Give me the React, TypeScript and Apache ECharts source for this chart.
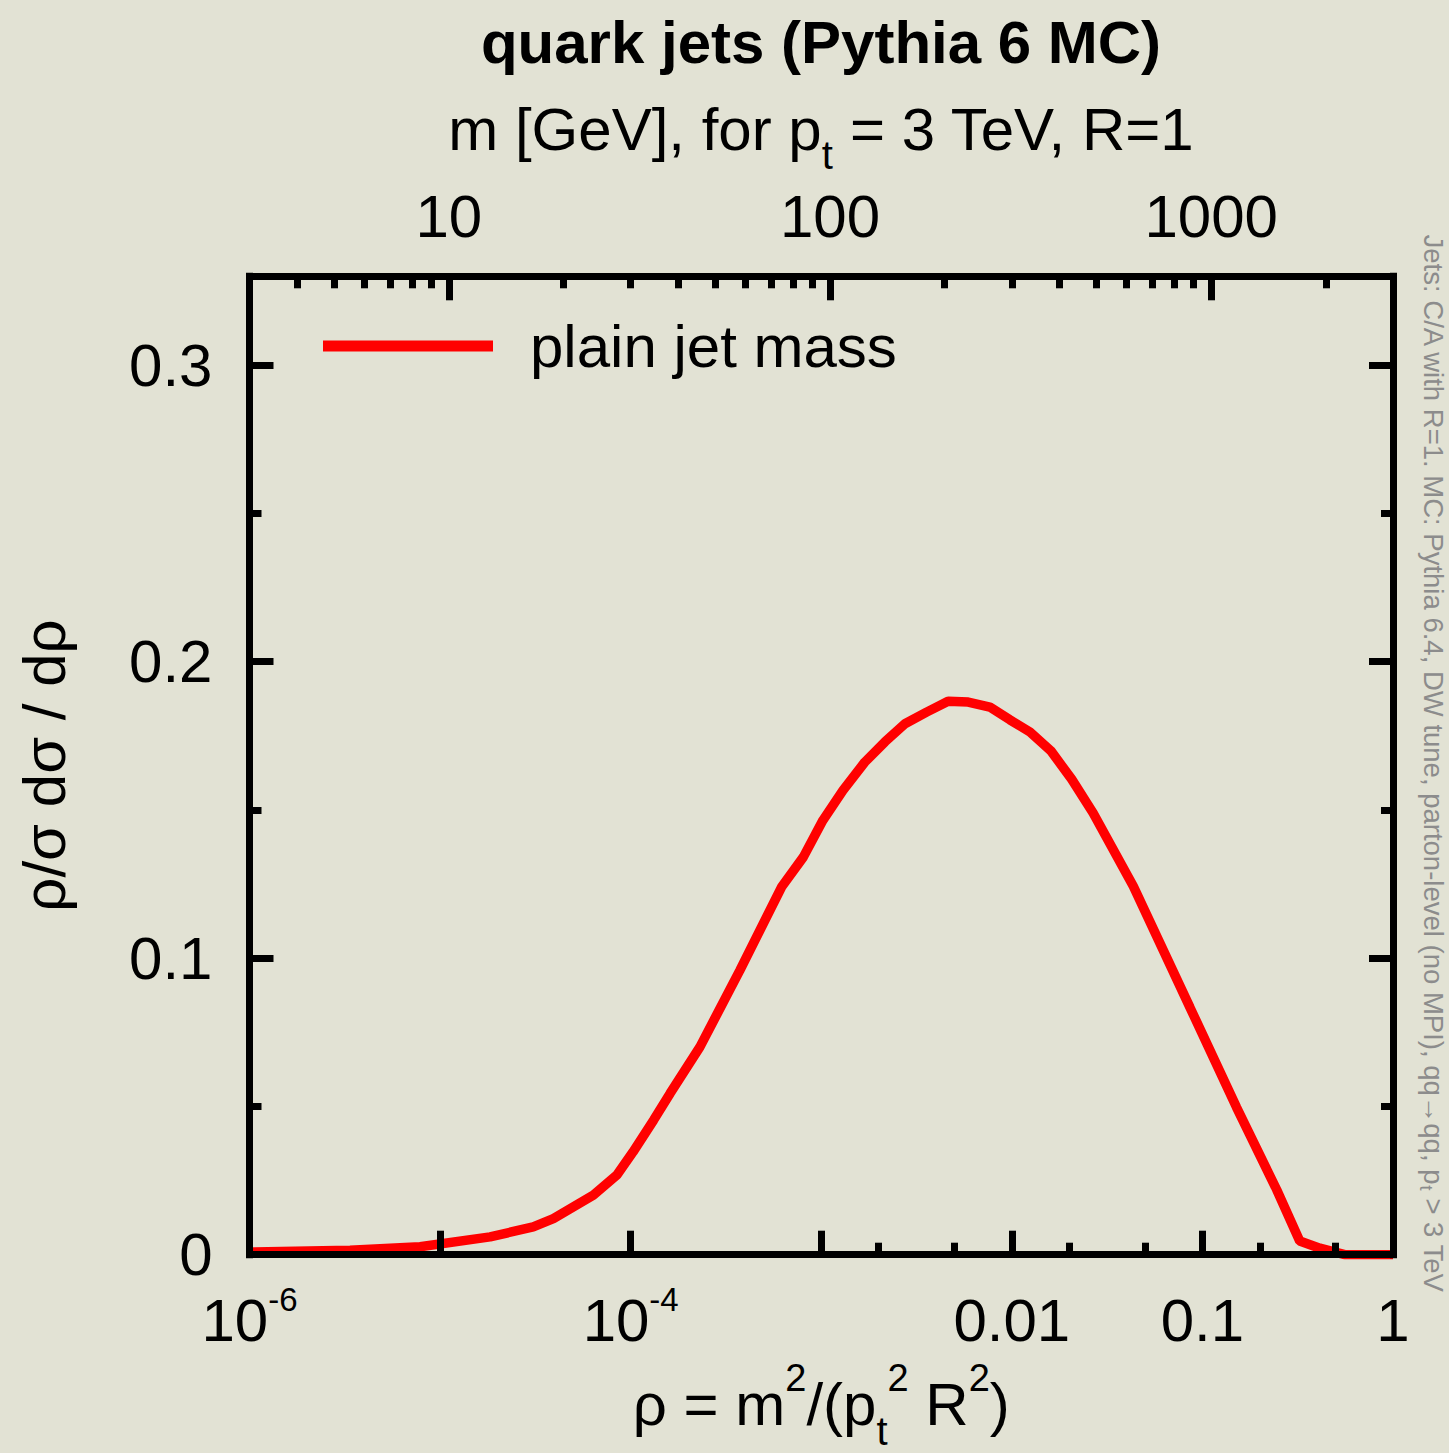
import React, { useEffect, useRef } from "react";
import * as echarts from "echarts";

// ---- data ----
const rho = [
  1.0e-6, 3.37e-6, 7.85e-6, 1.83e-5, 3.08e-5, 3.93e-5, 6.37e-5, 8.45e-5,
  1.03e-4, 1.32e-4, 1.61e-4, 2.31e-4, 3.74e-4, 6.19e-4, 8.05e-4, 1.02e-3,
  1.3e-3, 1.69e-3, 2.16e-3, 2.75e-3, 3.57e-3, 4.63e-3, 5.9e-3, 7.67e-3,
  9.77e-3, 1.245e-2, 1.6e-2, 2.06e-2, 2.67e-2, 4.34e-2, 8.59e-2, 0.151,
  0.245, 0.324, 0.413, 0.558, 1.0,
];
const plainJetMass = [
  0.0009, 0.0015, 0.0027, 0.006, 0.0094, 0.0122, 0.0201, 0.0268,
  0.0347, 0.0454, 0.0544, 0.0701, 0.0959, 0.124, 0.1341, 0.1465,
  0.1566, 0.1661, 0.173, 0.1791, 0.183, 0.1867, 0.1864, 0.1847,
  0.1804, 0.1763, 0.17, 0.1604, 0.149, 0.1243, 0.0835, 0.0497,
  0.022, 0.0046, 0.0022, 0.0, 0.0,
];

const rhoMin = 1e-6;
const rhoMax = 1;
const ptGeV = 3000; // p_t = 3 TeV, R = 1
const bottomMinorTicks = [0.002, 0.005, 0.02, 0.05, 0.2, 0.5];
const topMajorMass = [10, 100, 1000];
const topMinorMass = [
  4, 5, 6, 7, 8, 9, 20, 30, 40, 50, 60, 70, 80, 90,
  200, 300, 400, 500, 600, 700, 800, 900, 2000,
];
const yMajor = [0, 0.1, 0.2, 0.3];
const yMinor = [0.05, 0.15, 0.25];
const yMax = 0.33;
const bottomLabelMap: Record<string, string> = {
  "-6": "{b|10}{s|-6}",
  "-5": "",
  "-4": "{b|10}{s|-4}",
  "-3": "",
  "-2": "{b|0.01}",
  "-1": "{b|0.1}",
  "0": "{b|1}",
};

const FONT = '"Liberation Sans", Arial, Helvetica, sans-serif';
const BG = "#e2e2d4";
const BLACK = "#000000";
const RED = "#ff0000";
const FS = 60;

const titleRich = {
  sub: { fontSize: 40, lineHeight: 38, verticalAlign: "bottom", fontFamily: FONT, color: BLACK },
  sup: { fontSize: 38, lineHeight: 60, verticalAlign: "top", fontFamily: FONT, color: BLACK },
};

export default function App() {
  const ref = useRef<HTMLDivElement>(null);

  useEffect(() => {
    if (!ref.current) return;
    const chart = echarts.init(ref.current, null, { renderer: "svg" });

    const mMin = ptGeV * Math.sqrt(rhoMin);
    const mMax = ptGeV * Math.sqrt(rhoMax);

    const borderLine = { show: true, onZero: false, lineStyle: { color: BLACK, width: 7, cap: "square" } };
    const noLine = { show: false, onZero: false };
    const majorTick = (vals?: number[]) => ({
      show: true,
      inside: true,
      length: 24,
      ...(vals ? { customValues: vals } : {}),
      lineStyle: { color: BLACK, width: 7 },
    });
    const minorTick = (vals: number[]) => ({
      show: true,
      inside: true,
      length: 12,
      customValues: vals,
      lineStyle: { color: BLACK, width: 7 },
    });

    const option: any = {
      animation: false,
      backgroundColor: BG,
      textStyle: { fontFamily: FONT },
      grid: {
        left: 249.5,
        right: 56,
        top: 276.3,
        bottom: 198.3,
        containLabel: false,
        outerBoundsMode: "none",
      },
      legend: {
        data: [{ name: "plain jet mass", icon: "rect" }],
        left: 323,
        top: 316,
        padding: 0,
        itemWidth: 170,
        itemHeight: 11,
        selectedMode: false,
        textStyle: {
          fontSize: FS,
          lineHeight: FS,
          color: BLACK,
          fontFamily: FONT,
          padding: [0, 0, 0, 32],
        },
      },
      xAxis: [
        {
          type: "log",
          logBase: 10,
          min: rhoMin,
          max: rhoMax,
          position: "bottom",
          z: 3,
          axisLine: borderLine,
          axisTick: majorTick(),
          minorTick: { show: false },
          splitLine: { show: false },
          axisLabel: {
            show: true,
            margin: 28,
            showMinLabel: true,
            showMaxLabel: true,
            hideOverlap: false,
            formatter: (v: number) => bottomLabelMap[String(Math.round(Math.log10(v)))] ?? "",
            rich: {
              b: { fontSize: FS, lineHeight: 76, color: BLACK, fontFamily: FONT },
              s: { fontSize: 33, lineHeight: 33, verticalAlign: "top", color: BLACK, fontFamily: FONT },
            },
          },
          name: "ρ = m{sup|2}/(p{sub|t}{sup|2} R{sup|2})",
          nameLocation: "middle",
          nameGap: 104,
          nameMoveOverlap: false,
          nameTextStyle: {
            fontSize: FS,
            lineHeight: 92,
            color: BLACK,
            fontFamily: FONT,
            rich: titleRich,
          },
        },
        {
          type: "value",
          min: Math.log10(rhoMin),
          max: Math.log10(rhoMax),
          position: "bottom",
          z: 3,
          axisLine: noLine,
          axisTick: minorTick(bottomMinorTicks.map((v) => Math.log10(v))),
          axisLabel: { show: false },
          splitLine: { show: false },
        },
        {
          type: "value",
          min: Math.log10(mMin),
          max: Math.log10(mMax),
          position: "top",
          z: 3,
          axisLine: borderLine,
          axisTick: majorTick(topMajorMass.map((m) => Math.log10(m))),
          splitLine: { show: false },
          axisLabel: {
            show: true,
            margin: 30,
            customValues: topMajorMass.map((m) => Math.log10(m)),
            formatter: (v: number) => String(Math.round(Math.pow(10, v))),
            fontSize: FS,
            lineHeight: FS,
            color: BLACK,
            fontFamily: FONT,
            hideOverlap: false,
          },
          name: "m [GeV], for p{sub|t} = 3 TeV, R=1",
          nameLocation: "middle",
          nameGap: 101,
          nameMoveOverlap: false,
          nameTextStyle: {
            fontSize: FS,
            lineHeight: 92,
            color: BLACK,
            fontFamily: FONT,
            rich: titleRich,
          },
        },
        {
          type: "value",
          min: Math.log10(mMin),
          max: Math.log10(mMax),
          position: "top",
          z: 3,
          axisLine: noLine,
          axisTick: minorTick(topMinorMass.map((m) => Math.log10(m))),
          axisLabel: { show: false },
          splitLine: { show: false },
        },
      ],
      yAxis: [
        {
          type: "value",
          min: 0,
          max: yMax,
          position: "left",
          z: 3,
          axisLine: borderLine,
          axisTick: majorTick(yMajor),
          splitLine: { show: false },
          axisLabel: {
            show: true,
            margin: 37,
            customValues: yMajor,
            formatter: (v: number) => (v === 0 ? "0" : String(Math.round(v * 10) / 10)),
            fontSize: FS,
            color: BLACK,
            fontFamily: FONT,
            hideOverlap: false,
          },
          name: "ρ/σ dσ / dρ",
          nameLocation: "middle",
          nameRotate: 90,
          nameGap: 175,
          nameMoveOverlap: false,
          nameTextStyle: { fontSize: FS, color: BLACK, fontFamily: FONT },
        },
        {
          type: "value",
          min: 0,
          max: yMax,
          position: "left",
          z: 3,
          axisLine: noLine,
          axisTick: minorTick(yMinor),
          axisLabel: { show: false },
          splitLine: { show: false },
        },
        {
          type: "value",
          min: 0,
          max: yMax,
          position: "right",
          z: 3,
          axisLine: borderLine,
          axisTick: majorTick(yMajor),
          axisLabel: { show: false },
          splitLine: { show: false },
        },
        {
          type: "value",
          min: 0,
          max: yMax,
          position: "right",
          z: 3,
          axisLine: noLine,
          axisTick: minorTick(yMinor),
          axisLabel: { show: false },
          splitLine: { show: false },
        },
      ],
      series: [
        {
          type: "line",
          name: "plain jet mass",
          xAxisIndex: 0,
          yAxisIndex: 0,
          data: rho.map((r, i) => [r, plainJetMass[i]]),
          showSymbol: false,
          symbol: "none",
          lineStyle: { color: RED, width: 9.5 },
          itemStyle: { color: RED },
          z: 2,
        },
      ],
      graphic: [
        {
          type: "text",
          x: 821,
          y: 42,
          style: {
            text: "quark jets (Pythia 6 MC)",
            fontSize: 60,
            fontWeight: "bold",
            fontFamily: FONT,
            fill: BLACK,
            align: "center",
            verticalAlign: "middle",
            textAlign: "center",
            textVerticalAlign: "middle",
          },
        },
        {
          type: "text",
          x: 1433,
          y: 763,
          rotation: -Math.PI / 2,
          style: {
            text: "Jets: C/A with R=1. MC: Pythia 6.4, DW tune, parton-level (no MPI), qq→qq, p{sub|t} > 3 TeV",
            fontSize: 27.5,
            lineHeight: 32,
            fontFamily: FONT,
            fill: "#8c8c8c",
            align: "center",
            verticalAlign: "middle",
            textAlign: "center",
            textVerticalAlign: "middle",
            rich: {
              sub: { fontSize: 19, lineHeight: 19, verticalAlign: "bottom", fill: "#8c8c8c", fontFamily: FONT },
            },
          },
        },
      ],
    };

    chart.setOption(option);
    return () => chart.dispose();
  }, []);

  return (
    <div
      ref={ref}
      style={{ position: "absolute", left: 0, top: 0, width: 1449, height: 1453 }}
    />
  );
}
